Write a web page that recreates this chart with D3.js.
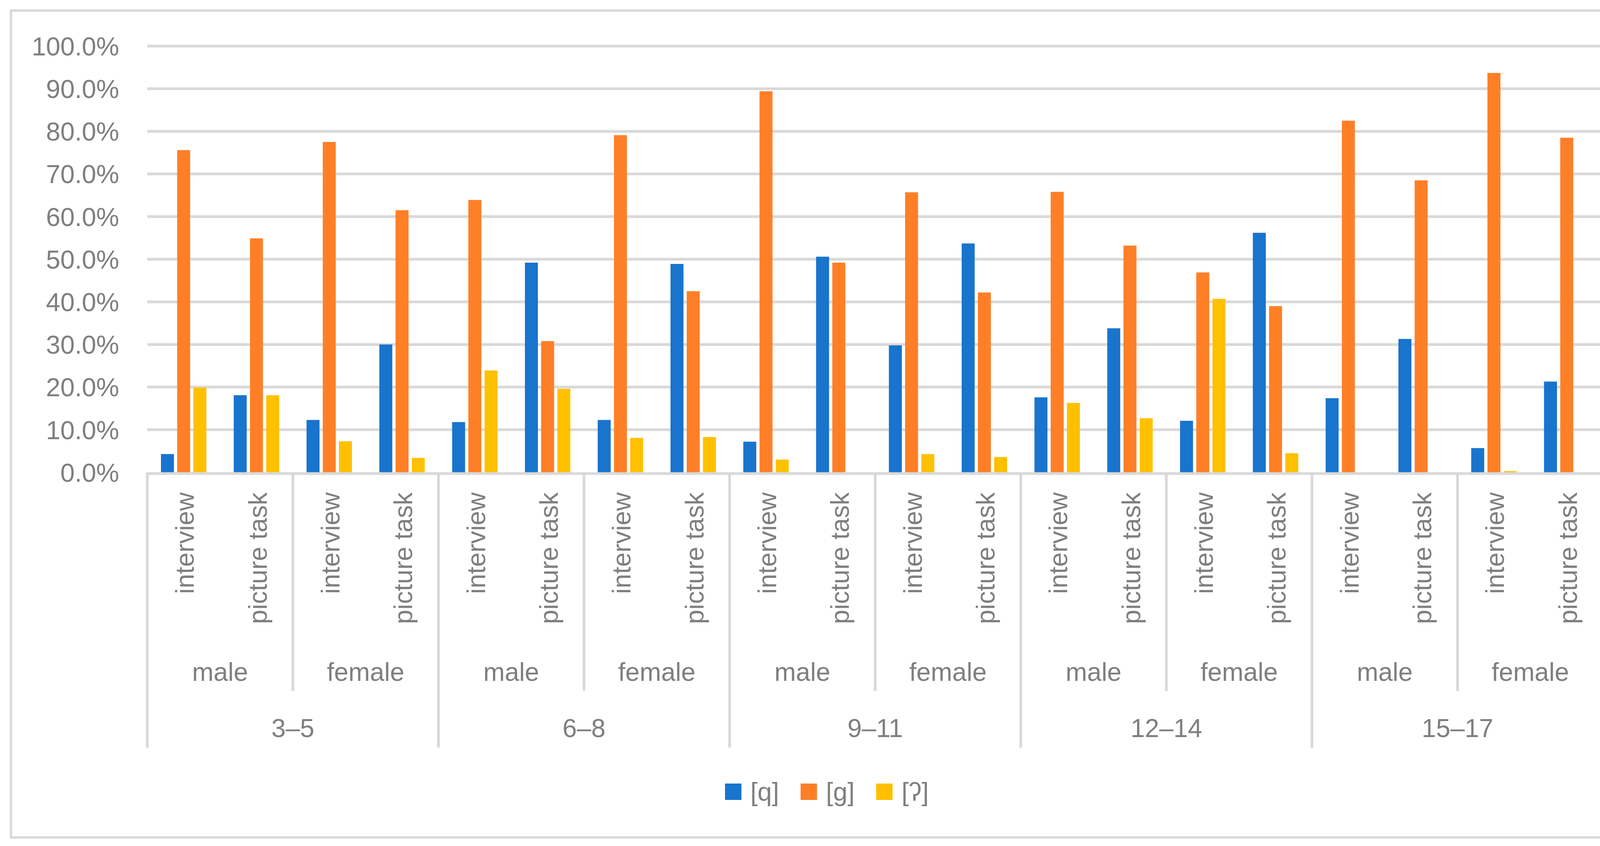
<!DOCTYPE html>
<html>
<head>
<meta charset="utf-8">
<script src="https://cdn.jsdelivr.net/npm/d3@7"></script>
<style>
  html, body { margin: 0; padding: 0; background: #fff; }
  svg { display: block; }
  text { font-family: "Liberation Sans", Arial, sans-serif; fill: #7f7f7f; }
</style>
</head>
<body>
<div id="chart"></div>
<script>
// values, in percent
const ageGroups = ["3–5", "6–8", "9–11", "12–14", "15–17"];
const genders = ["male", "female"];
const tasks = ["interview", "picture task"];
const seriesNames = ["[q]", "[g]", "[ʔ]"];
const seriesColors = ["#1874CD", "#FF7F27", "#FFC000"];

const qValues = [4.3, 18.1, 12.3, 30.0, 11.8, 49.2, 12.3, 48.9, 7.2, 50.6,
                 29.8, 53.7, 17.6, 33.8, 12.1, 56.2, 17.4, 31.3, 5.7, 21.3];
const gValues = [75.6, 54.9, 77.5, 61.5, 63.9, 30.8, 79.1, 42.5, 89.4, 49.2,
                 65.7, 42.2, 65.8, 53.2, 46.9, 39.0, 82.5, 68.5, 93.7, 78.5];
const glottalValues = [19.9, 18.1, 7.3, 3.4, 23.9, 19.6, 8.1, 8.3, 3.0, 0,
                       4.3, 3.6, 16.3, 12.7, 40.7, 4.5, 0, 0, 0.3, 0];

const yTicks = [0, 0.1, 0.2, 0.3, 0.4, 0.5, 0.6, 0.7, 0.8, 0.9, 1.0];

const W = 4218, H = 2167;
const plotLeft = 377, plotRight = 4104, plotTop = 118, base = 1210;
const fontSize = 66;
const lineColor = "#d9d9d9";

// flat list of leaf categories
const cats = [];
ageGroups.forEach(a => genders.forEach(g => tasks.forEach(t => cats.push({age: a, gender: g, task: t}))));
cats.forEach((c, i) => { c.i = i; c.values = [qValues[i] / 100, gValues[i] / 100, glottalValues[i] / 100]; });

const svg = d3.select("#chart").append("svg").attr("width", W).attr("height", H);

// outer frame
svg.append("rect")
  .attr("x", 28).attr("y", 27).attr("width", 4163).attr("height", 2118)
  .attr("fill", "#fff").attr("stroke", lineColor).attr("stroke-width", 6);

const y = d3.scaleLinear().domain([0, 1]).range([base, plotTop]);
const x0 = d3.scaleBand().domain(cats.map(c => c.i)).range([plotLeft, plotRight]).padding(0);
const bw = x0.bandwidth();
const x1 = d3.scaleBand().domain(d3.range(seriesNames.length))
  .range([bw * 0.188, bw * 0.812]).paddingInner(0.2).paddingOuter(0);

// gridlines
svg.append("g")
  .selectAll("line")
  .data(yTicks.slice(1))
  .join("line")
  .attr("x1", plotLeft).attr("x2", plotRight)
  .attr("y1", d => y(d)).attr("y2", d => y(d))
  .attr("stroke", lineColor).attr("stroke-width", 7);

// y labels
const fmt = d3.format(".1%");
svg.append("g")
  .selectAll("text")
  .data(yTicks)
  .join("text")
  .attr("x", 305)
  .attr("y", d => y(d))
  .attr("dy", "0.36em")
  .attr("text-anchor", "end")
  .attr("font-size", fontSize)
  .text(d => fmt(d));

// bars
svg.append("g")
  .selectAll("g")
  .data(cats)
  .join("g")
  .attr("transform", d => `translate(${x0(d.i)},0)`)
  .selectAll("rect")
  .data(d => d.values.map((v, s) => ({v, s})))
  .join("rect")
  .attr("x", d => x1(d.s))
  .attr("width", x1.bandwidth())
  .attr("y", d => y(d.v))
  .attr("height", d => base - y(d.v))
  .attr("fill", d => seriesColors[d.s]);

// category axis
const axis = svg.append("g");
axis.append("line")
  .attr("x1", plotLeft - 3).attr("x2", plotRight + 3)
  .attr("y1", base + 3).attr("y2", base + 3)
  .attr("stroke", lineColor).attr("stroke-width", 7);

const perGender = tasks.length;
const perAge = genders.length * tasks.length;

// dividers between gender groups (short) and age groups (long)
const dividerData = d3.range(cats.length / perGender + 1).map(k => ({
  x: plotLeft + k * perGender * bw,
  long: k % genders.length === 0
}));
axis.selectAll("line.div")
  .data(dividerData)
  .join("line")
  .attr("class", "div")
  .attr("x1", d => d.x).attr("x2", d => d.x)
  .attr("y1", base).attr("y2", d => d.long ? 1915 : 1770)
  .attr("stroke", lineColor).attr("stroke-width", 7);

// task labels, rotated
axis.selectAll("text.task")
  .data(cats)
  .join("text")
  .attr("class", "task")
  .attr("font-size", fontSize)
  .attr("text-anchor", "end")
  .attr("transform", d => `translate(${x0(d.i) + bw / 2 + 26},1261) rotate(-90)`)
  .text(d => d.task);

// gender labels
const genderCells = d3.range(cats.length / perGender).map(k => ({
  k, name: genders[k % genders.length]
}));
axis.selectAll("text.gender")
  .data(genderCells)
  .join("text")
  .attr("class", "gender")
  .attr("font-size", fontSize)
  .attr("text-anchor", "middle")
  .attr("x", d => plotLeft + (d.k + 0.5) * perGender * bw)
  .attr("y", 1744)
  .text(d => d.name);

// age labels
axis.selectAll("text.age")
  .data(ageGroups)
  .join("text")
  .attr("class", "age")
  .attr("font-size", fontSize)
  .attr("text-anchor", "middle")
  .attr("x", (d, i) => plotLeft + (i + 0.5) * perAge * bw)
  .attr("y", 1888)
  .text(d => d);

// legend
const legend = svg.append("g")
  .selectAll("g")
  .data(seriesNames)
  .join("g")
  .attr("transform", (d, i) => `translate(${1856 + i * 193.5},2007)`);
legend.append("rect")
  .attr("width", 42).attr("height", 42)
  .attr("fill", (d, i) => seriesColors[i]);
legend.append("text")
  .attr("x", 65).attr("y", 44)
  .attr("font-size", fontSize)
  .text(d => d);
</script>
</body>
</html>
